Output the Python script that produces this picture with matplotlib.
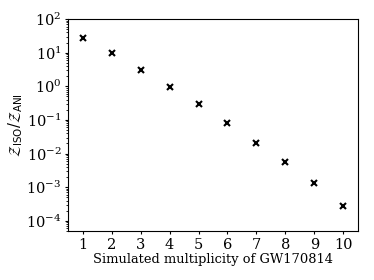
import matplotlib
matplotlib.use('Agg')
import matplotlib.pyplot as plt
from matplotlib.ticker import LogLocator

plt.rcParams['font.family'] = 'DejaVu Serif'
plt.rcParams['mathtext.fontset'] = 'dejavusans'
plt.rcParams.update({'font.size': 9.4})

multiplicity = [1, 2, 3, 4, 5, 6, 7, 8, 9, 10]
bayes_ratio = [27, 9.5, 3.1, 0.95, 0.29, 0.08, 0.021, 0.0058, 0.00135, 0.00028]

fig = plt.figure(figsize=(3.74, 2.8), dpi=100)
ax = fig.add_axes([0.182, 0.175, 0.775, 0.757])

ax.plot(multiplicity, bayes_ratio, 'x', color='black', markersize=5, markeredgewidth=1.5)
ax.set_yscale('log')
ax.set_xlim(0.5, 10.5)
ax.set_ylim(5e-5, 1e2)
ax.yaxis.set_major_locator(LogLocator(base=10, numticks=20))
ax.yaxis.set_minor_locator(LogLocator(base=10, subs=range(2, 10), numticks=20))
ax.set_xticks(multiplicity)
ax.tick_params(which='major', length=2.5, pad=2.2, labelsize=10.5)
ax.tick_params(which='minor', length=1.3)
ax.set_xlabel('Simulated multiplicity of GW170814', labelpad=1)
ax.set_ylabel(r'$\mathcal{Z}_{\rm ISO}/\mathcal{Z}_{\rm ANI}$', fontsize=10.5, labelpad=1)

fig.savefig('out.png', dpi=100)
